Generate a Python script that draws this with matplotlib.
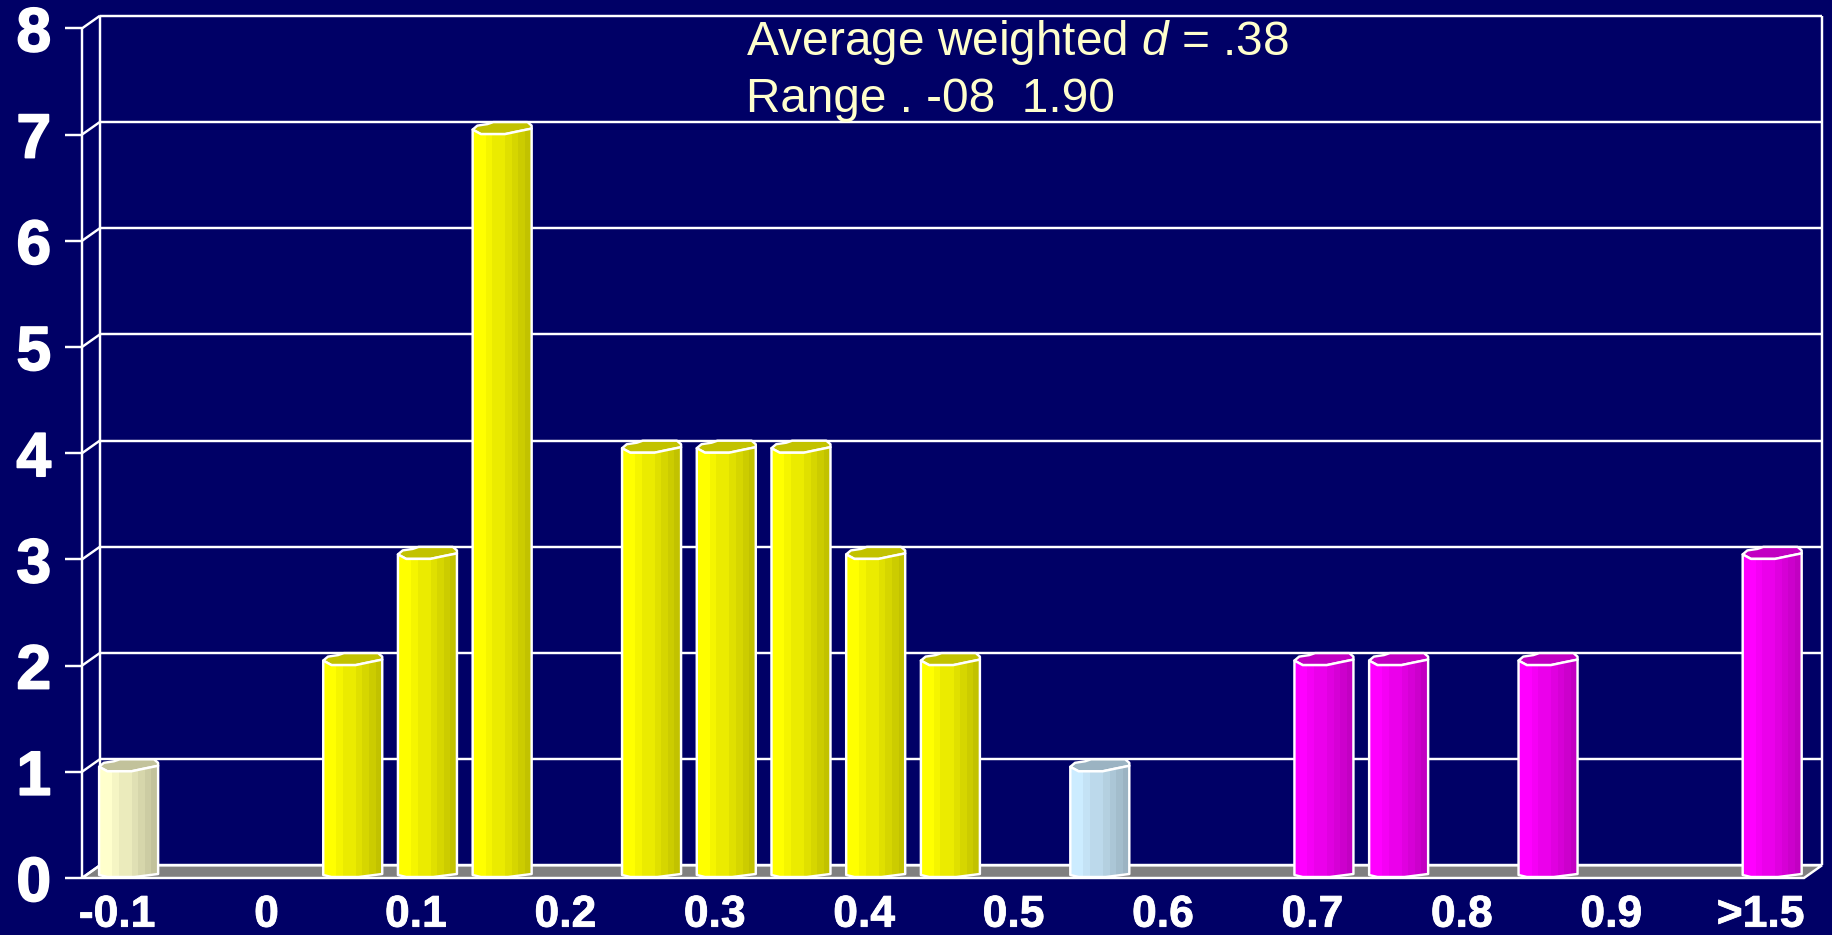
import matplotlib
matplotlib.use("Agg")
import matplotlib.pyplot as plt
from matplotlib.patches import Polygon
import matplotlib.patheffects as pe
import numpy as np

plt.rcParams['font.family'] = ['Liberation Sans', 'DejaVu Sans']
plt.rcParams['mathtext.fontset'] = 'custom'
plt.rcParams['mathtext.rm'] = 'Liberation Sans'
plt.rcParams['mathtext.it'] = 'Liberation Sans:italic'

# ---- data ----
counts = [1, 0, 0, 2, 3, 7, 0, 4, 4, 4, 3, 2, 0, 1, 0, 0, 2, 2, 0, 2, 0, 0, 3]
groups = ['pale', 'y', 'y', 'y', 'y', 'y', 'y', 'y', 'y', 'y', 'y', 'y', 'y',
          'blue', 'm', 'm', 'm', 'm', 'm', 'm', 'm', 'm', 'm']
x_labels = ['-0.1', '0', '0.1', '0.2', '0.3', '0.4', '0.5', '0.6', '0.7', '0.8', '0.9', '>1.5']
y_ticks = [0, 1, 2, 3, 4, 5, 6, 7, 8]
note_lines = ['Average weighted $\\mathit{d}$ = .38', 'Range . -08  1.90']

# ---- style ----
BG = '#000066'
colors = {'pale': (1.0, 1.0, 0.8), 'y': (1.0, 1.0, 0.0),
          'blue': (0.8, 0.925, 1.0), 'm': (1.0, 0.0, 1.0)}
shade = [1, 1, 0.96, 0.92, 0.92, 0.88, 0.84, 0.8, 0.76]
W, H = 1833, 935
PX_X, PX_Y = 74.7, 106.2          # pixels per category / per unit
DX, DY = 18 / PX_X, 12.7 / PX_Y   # depth offset
LW = 1.75

fig = plt.figure(figsize=(W / 100, H / 100), dpi=100, facecolor=BG)
ax = fig.add_axes([82 / W, 1 - 878 / H, 1722 / W, 849.6 / H], facecolor=BG)
ax.patch.set_visible(False)
xmin, xmax = -0.47, 22.58
ax.set_xlim(xmin, xmax)
ax.set_ylim(0, 8)
for s in ax.spines.values():
    s.set_visible(False)

# walls and floor
line = dict(color='white', lw=LW, clip_on=False, solid_capstyle='butt')
ax.add_patch(Polygon([(xmin, 0), (xmin + DX, DY), (xmax + DX, DY), (xmax, 0)], closed=True,
                     facecolor='#808080', edgecolor='white', lw=LW, clip_on=False, zorder=1))
for v in y_ticks:
    ax.plot([xmin, xmin + DX], [v, v + DY], **line, zorder=1)
    ax.plot([xmin + DX, xmax + DX], [v + DY, v + DY], **line, zorder=1)
ax.plot([xmin, xmin], [0, 8], **line, zorder=1)
ax.plot([xmin + DX] * 2, [DY, 8 + DY], **line, zorder=1)
ax.plot([xmax + DX] * 2, [DY, 8 + DY], **line, zorder=1)

# cylinders
half = 29.5 / PX_X
shift = 11.5 / PX_X
for i, (v, g) in enumerate(zip(counts, groups)):
    if v == 0:
        continue
    c = np.array(colors[g])
    left = i + shift - half
    w = 2 * half
    sx = lambda f: left + f * w
    top = [(sx(f), v + p / PX_Y) for f, p in [(0, 5), (0.14, 0.5), (0.55, 0.5), (0.75, 3), (1, 6)]]
    base = [(sx(f), p / PX_Y) for f, p in [(1, 4), (0.6, 1), (0.14, 1), (0, 3)]]
    cap = [(sx(0), v + 5 / PX_Y), (sx(0.08), v + 9 / PX_Y), (sx(0.25), v + 10.5 / PX_Y),
           (sx(0.35), v + 12.5 / PX_Y), (sx(0.93), v + 12.5 / PX_Y),
           (sx(1), v + 9 / PX_Y), (sx(1), v + 6 / PX_Y), (sx(0.75), v + 3 / PX_Y),
           (sx(0.55), v + 0.5 / PX_Y), (sx(0.14), v + 0.5 / PX_Y)]
    ax.add_patch(Polygon(cap, closed=True, facecolor=c * shade[-1], edgecolor='white',
                         lw=LW, clip_on=False, zorder=3, joinstyle='round'))
    body = Polygon(top + base, closed=True, facecolor='none', edgecolor='none', clip_on=False, zorder=3)
    ax.add_patch(body)
    n = len(shade)
    strips = ax.bar([sx((k + 0.5) / n) for k in range(n)], [v + 0.1] * n, width=w / n * 1.03,
                    bottom=-0.05, color=[c * s for s in shade], linewidth=0, zorder=3)
    for st in strips:
        st.set_clip_path(body)
    ax.add_patch(Polygon(top + base, closed=True, facecolor='none', edgecolor='white',
                         lw=LW, clip_on=False, zorder=4, joinstyle='round'))

# axes
ax.set_yticks(y_ticks)
ax.set_yticklabels([str(v) for v in y_ticks], fontsize=45, fontweight='bold', color='white', ha='center')
for t in ax.get_yticklabels():
    t.set_path_effects([pe.withStroke(linewidth=1.2, foreground='white')])
ax.tick_params(axis='y', length=12.2, width=LW, color='white', pad=22.5)
ax.set_xticks(range(0, 23, 2))
ax.set_xticklabels(x_labels, fontsize=32, fontweight='bold', color='white')
for t in ax.get_xticklabels():
    t.set_path_effects([pe.withStroke(linewidth=0.6, foreground='white')])
ax.tick_params(axis='x', length=0, pad=12)

# note
for txt, ypix in zip(note_lines, [55, 112]):
    fig.text(746 / W, 1 - ypix / H, txt, color='#FFFFCC', fontsize=34.4, ha='left', va='baseline')

fig.savefig('out.png', dpi=100, facecolor=BG)
